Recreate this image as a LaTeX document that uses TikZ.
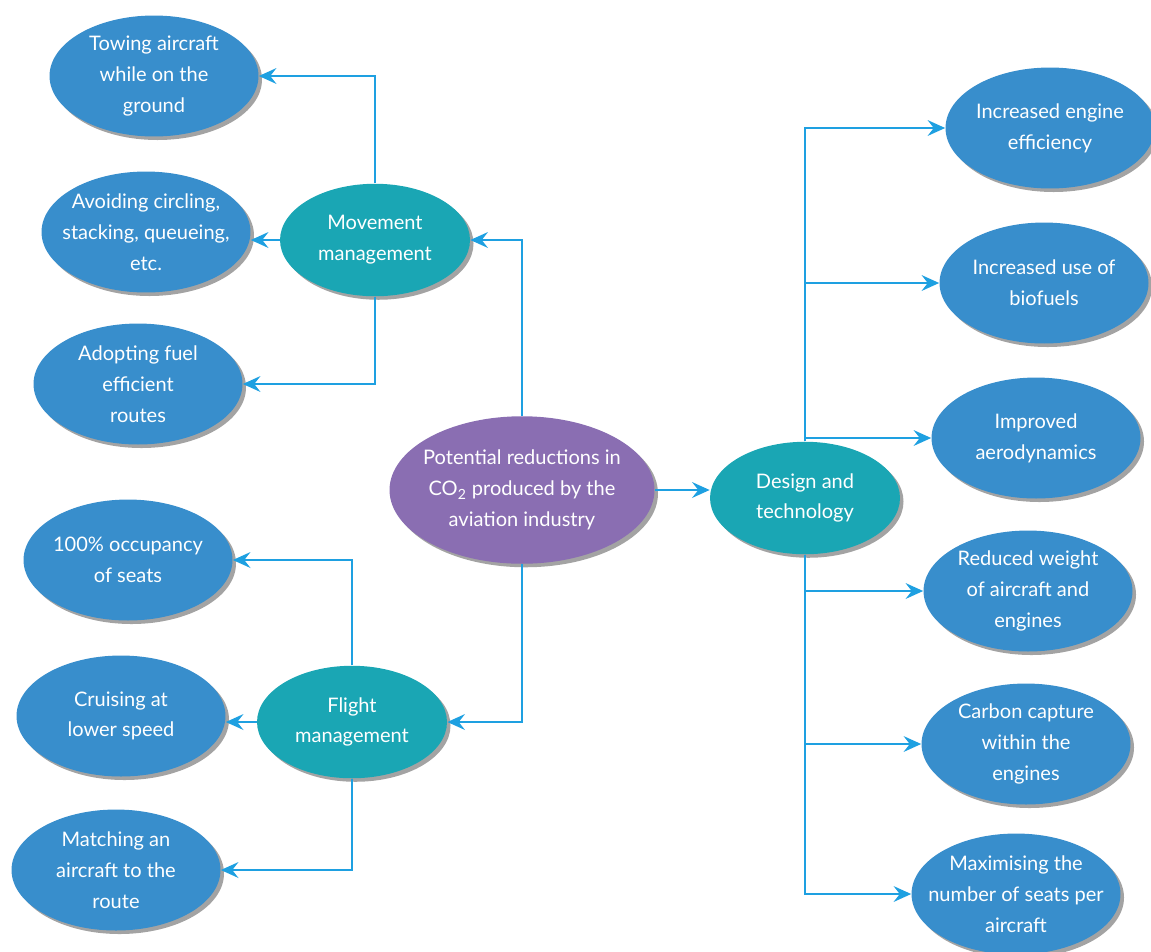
\documentclass[tikz,border=0pt]{standalone}
\usepackage{fontspec}
\setmainfont{Lato}
\usetikzlibrary{arrows.meta, positioning, shapes.geometric, shadows}
\definecolor{leafblue}{RGB}{56,142,204}
\definecolor{hubteal}{RGB}{26,166,180}
\definecolor{rootpurple}{RGB}{138,110,178}
\definecolor{linkblue}{RGB}{30,160,225}
\tikzset{bubble/.style = {ellipse, fill=#1, text=white, align=center,
		inner xsep=-14pt, inner ysep=-6pt,
		font=\fontsize{11.4}{17.5}\selectfont,
		drop shadow={shadow xshift=2pt, shadow yshift=-2pt, fill=black!45, opacity=.8}},
	leaf/.style = {bubble=leafblue, minimum width=4.18cm, minimum height=2.42cm},
	hub/.style = {bubble=hubteal, minimum width=3.8cm, minimum height=2.25cm},
	root/.style = {bubble=rootpurple, minimum width=5.3cm, minimum height=2.95cm},
	link/.style = {draw=linkblue, line width=1pt, -{Stealth[length=10pt,width=9pt,inset=3.5pt]}}}
\begin{document}
\begin{tikzpicture}[x=0.02cm, y=-0.02cm]
\useasboundingbox (0,0) rectangle (1151,951);
% centre and hubs
\node[root] (co2) at (522,490) {Potential reductions in\\CO\textsubscript{2} produced by the\\aviation industry};
\node[hub] (move) at (375,240) {Movement\\management};
\node[hub] (flight) at (352,722) {Flight\\management};
\node[hub] (design) at (805,498) {Design and\\technology};
% left leaves
\node[leaf] (tow) at (154,76) {Towing aircraft\\while on the\\ground};
\node[leaf] (avoid) at (146,232) {Avoiding circling,\\stacking, queueing,\\etc.};
\node[leaf] (adopt) at (138,384) {Adopting fuel\\efficient\\routes};
\node[leaf] (occ) at (128,560) {100\% occupancy\\of seats};
\node[leaf] (cruise) at (121,716) {Cruising at\\lower speed};
\node[leaf] (match) at (116,870) {Matching an\\aircraft to the\\route};
% right leaves
\node[leaf] (eng) at (1050,128) {Increased engine\\efficiency};
\node[leaf] (bio) at (1044,283) {Increased use of\\biofuels};
\node[leaf] (aero) at (1036,438) {Improved\\aerodynamics};
\node[leaf] (weight) at (1028,591) {Reduced weight\\of aircraft and\\engines};
\node[leaf] (capture) at (1026,744) {Carbon capture\\within the\\engines};
\node[leaf] (maxi) at (1016,894) {Maximising the\\number of seats per\\aircraft};
% connectors
\draw[link] (co2.north) |- (move.east);
\draw[link] (co2.south) |- (flight.east);
\draw[link] (co2.east) -- (co2.east -| design.west);
\draw[link] (move.north) |- (tow.east);
\draw[link] (move.west) -- (move.west -| avoid.east);
\draw[link] (move.south) |- (adopt.east);
\draw[link] (flight.north) |- (occ.east);
\draw[link] (flight.west) -- (flight.west -| cruise.east);
\draw[link] (flight.south) |- (match.east);
\foreach \n in {eng,bio,aero}
	\draw[link] (design.north) |- (\n.west);
\foreach \n in {weight,capture,maxi}
	\draw[link] (design.south) |- (\n.west);
\end{tikzpicture}
\end{document}
